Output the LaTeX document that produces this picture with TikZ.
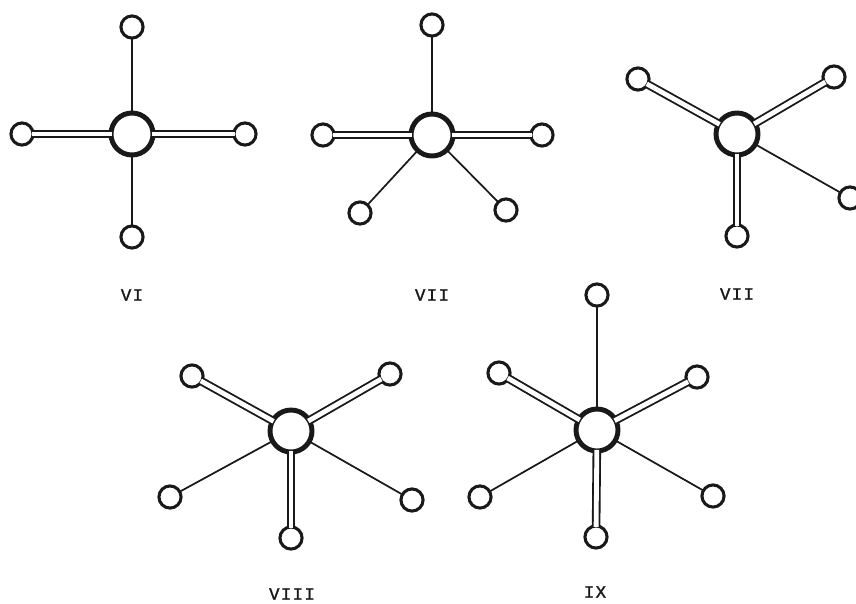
\documentclass[tikz,border=0pt]{standalone}
\usepackage{fontspec}
\newfontfamily\labfont[LetterSpace=8,FakeBold=1.5]{Liberation Mono}
\tikzset{
  hub/.style={circle,draw=black!90,line width=3.7pt,minimum size=31.5pt,inner sep=0pt,outer sep=0pt,fill=white},
  atom/.style={circle,draw=black!90,line width=2.3pt,minimum size=16.6pt,inner sep=0pt,outer sep=0pt,fill=white},
  single/.style={draw=black!90,line width=1.3pt,shorten <=-0.5pt,shorten >=-0.5pt},
  dbl/.style={draw=black!90,line width=1.4pt,double=white,double distance=3.6pt,shorten <=-0.8pt,shorten >=-0.8pt},
  lab/.style={inner sep=0pt,font=\labfont\fontsize{13pt}{14pt}\selectfont,text=black!90}
}
\begin{document}
\begin{tikzpicture}[x=0.75pt,y=-0.75pt]
\useasboundingbox (0,0) rectangle (856,603);
% VI
\node[hub] (a0) at (132,134) {};
\node[atom] (a1) at (132,27) {};
\node[atom] (a2) at (22,134) {};
\node[atom] (a3) at (245,134) {};
\node[atom] (a4) at (132,237) {};
\draw[single] (a0) -- (a1);
\draw[single] (a0) -- (a4);
\draw[dbl] (a0) -- (a2);
\draw[dbl] (a0) -- (a3);
\node[lab] (la) at (132,295) {VI};
% VII centre
\node[hub] (b0) at (432,135) {};
\node[atom] (b1) at (432,25) {};
\node[atom] (b2) at (323,135) {};
\node[atom] (b3) at (542,135) {};
\node[atom] (b4) at (360,213) {};
\node[atom] (b5) at (506,210) {};
\draw[single] (b0) -- (b1);
\draw[single] (b0) -- (b4);
\draw[single] (b0) -- (b5);
\draw[dbl] (b0) -- (b2);
\draw[dbl] (b0) -- (b3);
\node[lab] (lb) at (432,295) {VII};
% VII right
\node[hub] (c0) at (737,134) {};
\node[atom] (c1) at (638,79) {};
\node[atom] (c2) at (834,77) {};
\node[atom] (c3) at (737,236) {};
\node[atom] (c4) at (850,198) {};
\draw[single] (c0) -- (c4);
\draw[dbl] (c0) -- (c1);
\draw[dbl] (c0) -- (c2);
\draw[dbl] (c0) -- (c3);
\node[lab] (lc) at (737,294) {VII};
% VIII
\node[hub] (d0) at (291,431) {};
\node[atom] (d1) at (192,376) {};
\node[atom] (d2) at (390,374) {};
\node[atom] (d3) at (291,538) {};
\node[atom] (d4) at (170,497) {};
\node[atom] (d5) at (412,500) {};
\draw[single] (d0) -- (d4);
\draw[single] (d0) -- (d5);
\draw[dbl] (d0) -- (d1);
\draw[dbl] (d0) -- (d2);
\draw[dbl] (d0) -- (d3);
\node[lab] (ld) at (292,594) {VIII};
% IX
\node[hub] (e0) at (597,430) {};
\node[atom] (e1) at (597,295) {};
\node[atom] (e2) at (499,373) {};
\node[atom] (e3) at (697,377) {};
\node[atom] (e4) at (480,497) {};
\node[atom] (e5) at (713,496) {};
\node[atom] (e6) at (596,537) {};
\draw[single] (e0) -- (e1);
\draw[single] (e0) -- (e4);
\draw[single] (e0) -- (e5);
\draw[dbl] (e0) -- (e2);
\draw[dbl] (e0) -- (e3);
\draw[dbl] (e0) -- (e6);
\node[lab] (le) at (595,592) {IX};
\end{tikzpicture}
\end{document}
